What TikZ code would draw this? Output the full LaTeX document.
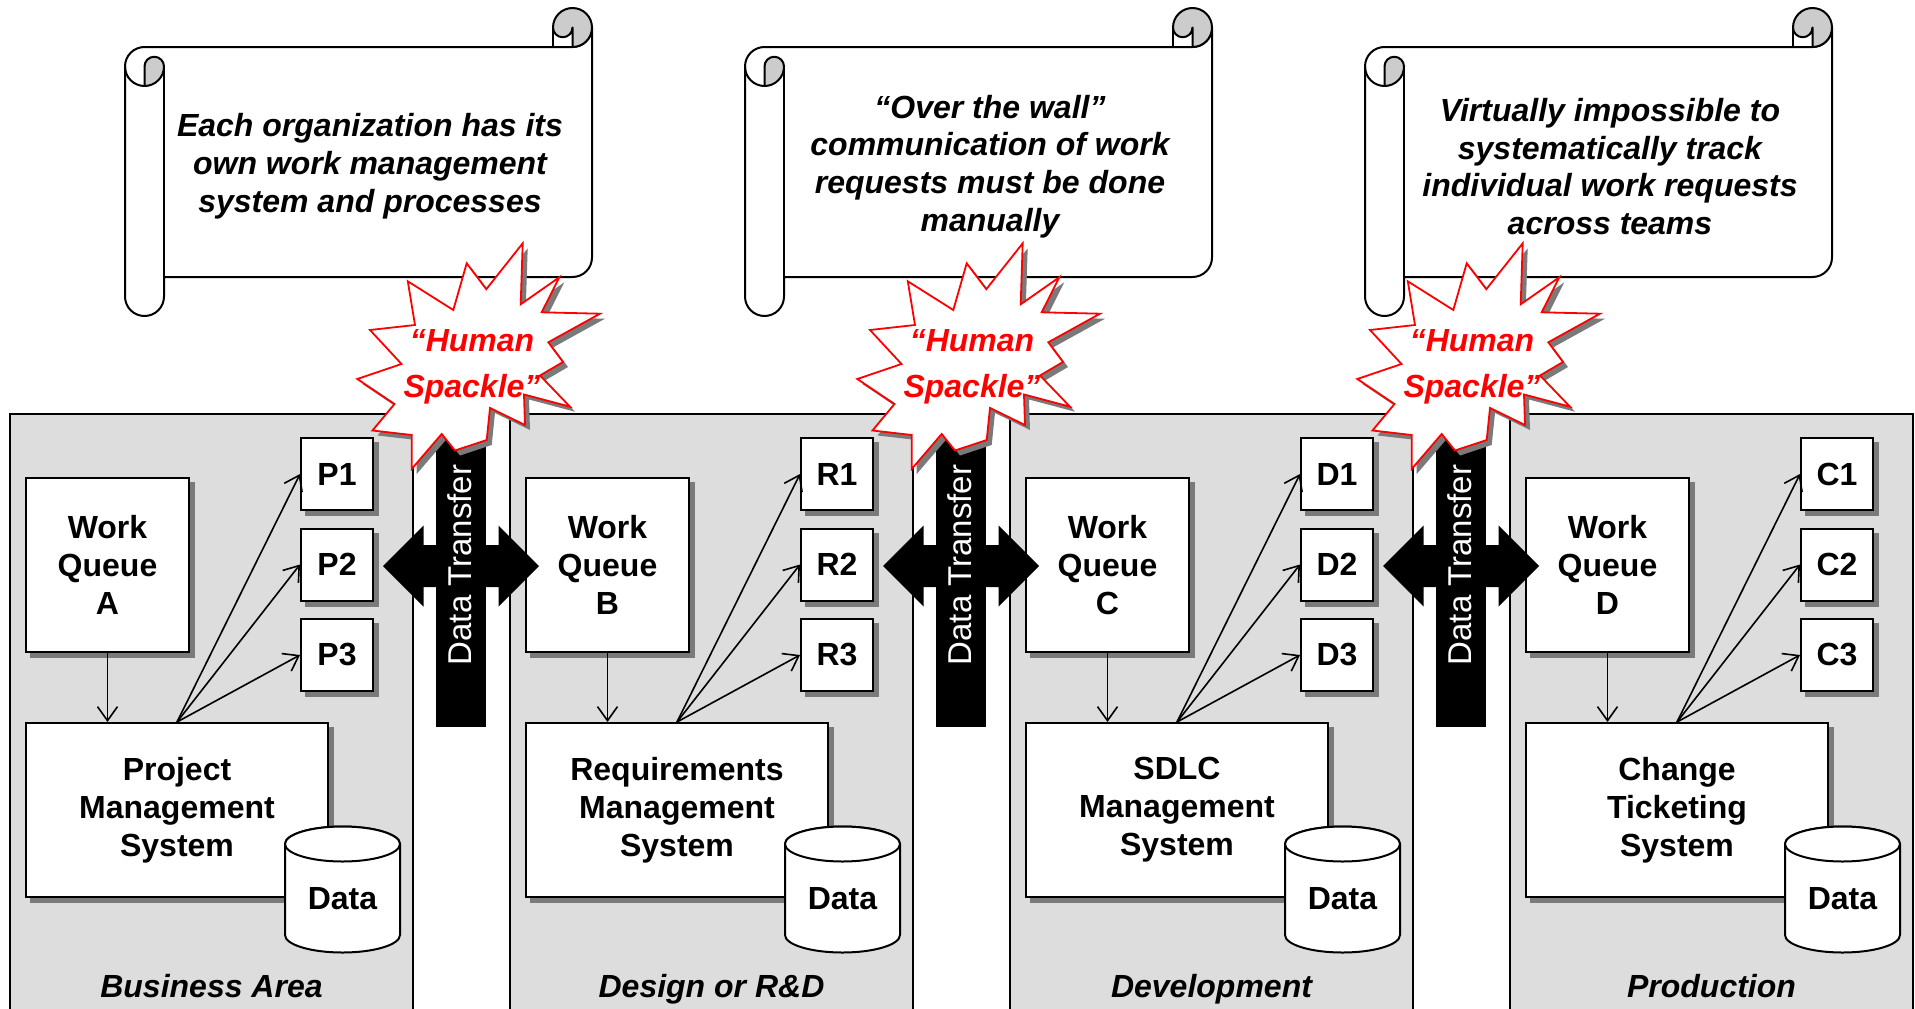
\documentclass[tikz,border=0pt]{standalone}
\usepackage{fontspec}
\setmainfont{Liberation Sans}
\usetikzlibrary{arrows.meta,calc}

\definecolor{panelgray}{HTML}{DDDDDD}
\definecolor{curlgray}{HTML}{CCCCCC}
\definecolor{shadowgray}{HTML}{7A7A7A}
\definecolor{spacklered}{HTML}{FF0000}

\pgfdeclarelayer{back}
\pgfdeclarelayer{shade}
\pgfsetlayers{back,shade,main}

\tikzset{
  panel/.style={fill=panelgray, draw=black, line width=1.4pt},
  box/.style={draw=black, fill=white, line width=2pt, inner sep=0pt,
    align=center, font=\bfseries\fontsize{32}{38}\selectfont},
  cyl/.style={draw=black, fill=white, line width=2pt},
  datalabel/.style={font=\bfseries\fontsize{32}{38}\selectfont, inner sep=0pt},
  arr/.style={draw=black, line width=1.6pt, -{Straight Barb[length=14pt,width=20pt]}},
  area/.style={font=\bfseries\itshape\fontsize{32}{38}\selectfont, anchor=base, inner sep=0pt},
  xferbar/.style={fill=black},
  xfertext/.style={text=white, rotate=90, font=\fontsize{33}{38}\selectfont, inner sep=0pt},
  scrollline/.style={draw=black, line width=2pt, line join=round},
  scrolltext/.style={align=center, font=\bfseries\itshape\fontsize{32}{37.8}\selectfont, inner sep=0pt},
  burst/.style={draw=spacklered, fill=white, line width=1.8pt, line join=miter},
  burstshade/.style={fill=shadowgray},
  bursttext/.style={align=center, text=spacklered, font=\bfseries\itshape\fontsize{32}{46}\selectfont, inner sep=0pt},
}

% rolled paper note: #1 left edge, #2 node name, #3 text
\newcommand\scrollnote[3]{%
  \begin{scope}[shift={(#1,0)}]
    \filldraw[scrollline, fill=white] (0,66.5) arc[start angle=180,end angle=270,radius=19.5]
      -- (447.5,47) arc[start angle=90,end angle=0,radius=19.5]
      -- (467,257.5) arc[start angle=0,end angle=90,radius=19.5]
      -- (39,277) -- (39,296.5) arc[start angle=0,end angle=180,radius=19.5] -- cycle;
    \filldraw[scrollline, fill=curlgray] (428,27.5) arc[start angle=180,end angle=360,radius=19.5]
      arc[start angle=0,end angle=90,radius=19.5] -- (447.5,27.5)
      arc[start angle=0,end angle=180,radius=9.75] -- cycle;
    \draw[scrollline] (428,27.5) -- (428,47);
    \filldraw[scrollline, fill=curlgray] (19.5,86) -- (19.5,66.5)
      arc[start angle=180,end angle=360,radius=9.75]
      arc[start angle=0,end angle=90,radius=19.5] -- cycle;
    \draw[scrollline] (0,66.5) arc[start angle=180,end angle=90,radius=19.5];
    \draw[scrollline] (39,66.5) -- (39,277);
    \node[scrolltext] (#2) at (245,166.5) {#3};
  \end{scope}}

% explosion outline
\newcommand\burstoutline[1]{%
  \path[#1] (522.7,243.3) -- (520.7,304.3) -- (559.3,277.3) -- (541.7,312.3)
    -- (600,313.7) -- (548.3,342.3) -- (563,362) -- (540,375.5) -- (570,406.7)
    -- (524,394.5) -- (525,425) -- (490,408) -- (486.7,440) -- (455,450.5)
    -- (441.7,434) -- (411.7,469) -- (411.7,435) -- (372.5,430.5) -- (394.5,404)
    -- (357.3,379) -- (401.5,364) -- (370,330) -- (415,325) -- (407.8,281.3)
    -- (453.3,310) -- (466.7,263.3) -- (486.3,289.2) -- cycle;}

% #1 horizontal shift, #2 node name
\newcommand\spackle[2]{%
  \begin{scope}[shift={(#1,0)}]
    \burstoutline{burstshade, shift={(5,5)}}
    \burstoutline{burst}
    \node[bursttext] (#2) at (472,367) {“Human\\Spackle”};
  \end{scope}}

\begin{document}
\begin{tikzpicture}[x=1pt, y=1pt, yscale=-1]
\useasboundingbox (0,0) rectangle (1915,1009);
\clip (0,0) rectangle (1915,1009);

\foreach \k/\q/\p/\sys/\area in {%
    0/A/P/{Project\\Management\\System}/Business Area,
    1/B/R/{Requirements\\Management\\System}/Design or R\&D,
    2/C/D/{SDLC\\Management\\System}/Development,
    3/D/C/{Change\\Ticketing\\System}/Production} {
  \pgfmathsetmacro\o{500*\k}
  \begin{pgfonlayer}{back}
    \path[panel] (10+\o,414) rectangle (413+\o,1040);
  \end{pgfonlayer}
  \node[box, minimum width=163pt, minimum height=174pt] (wq\k) at (107.5+\o,565) {Work\\Queue\\\q};
  \node[box, minimum width=302pt, minimum height=174pt] (sys\k) at (177+\o,810) {\sys};
  \node[box, minimum width=72pt, minimum height=72pt] (\p1) at (337+\o,474) {\p1};
  \node[box, minimum width=72pt, minimum height=72pt] (\p2) at (337+\o,564.5) {\p2};
  \node[box, minimum width=72pt, minimum height=72pt] (\p3) at (337+\o,655) {\p3};
  \begin{pgfonlayer}{shade}
    \foreach \n in {wq\k,sys\k,\p1,\p2,\p3}
      \fill[shadowgray] ($(\n.south west)+(5,5)$) rectangle ($(\n.north east)+(5,5)$);
  \end{pgfonlayer}
  \draw[arr] (wq\k.south) -- (wq\k.south |- sys\k.north);
  \foreach \j in {1,2,3} \draw[arr] (sys\k.north) -- (\p\j.west);
  % data store
  \filldraw[cyl] (285+\o,844) -- (285+\o,935)
    arc[start angle=180,end angle=0,x radius=57.5,y radius=17.5]
    -- (400+\o,844) arc[start angle=0,end angle=-180,x radius=57.5,y radius=17.5] -- cycle;
  \draw[cyl] (342.5+\o,844) ellipse[x radius=57.5,y radius=17.5];
  \node[datalabel] (data\k) at (342.5+\o,899) {Data};
  \node[area] (area\k) at (211.5+\o,997) {\area};
}

% two-way transfer arrows between the teams
\foreach \k in {0,1,2} {
  \pgfmathsetmacro\c{461+500*\k}
  \fill[xferbar] (\c-25,400) rectangle (\c+25,727);
  \fill[xferbar] (\c-78,566) -- (\c-37.5,525.5) -- (\c-37.5,545) -- (\c+37.5,545)
    -- (\c+37.5,525.5) -- (\c+78,566) -- (\c+37.5,606.5) -- (\c+37.5,587)
    -- (\c-37.5,587) -- (\c-37.5,606.5) -- cycle;
  \node[xfertext] (xfer\k) at (\c-1,565) {Data Transfer};
}

\scrollnote{125}{note1}{Each organization has its\\own work management\\system and processes}
\scrollnote{745}{note2}{“Over the wall”\\communication of work\\requests must be done\\manually}
\scrollnote{1365}{note3}{Virtually impossible to\\systematically track\\individual work requests\\across teams}

\spackle{0}{spackle1}
\spackle{500}{spackle2}
\spackle{1000}{spackle3}
\end{tikzpicture}
\end{document}
